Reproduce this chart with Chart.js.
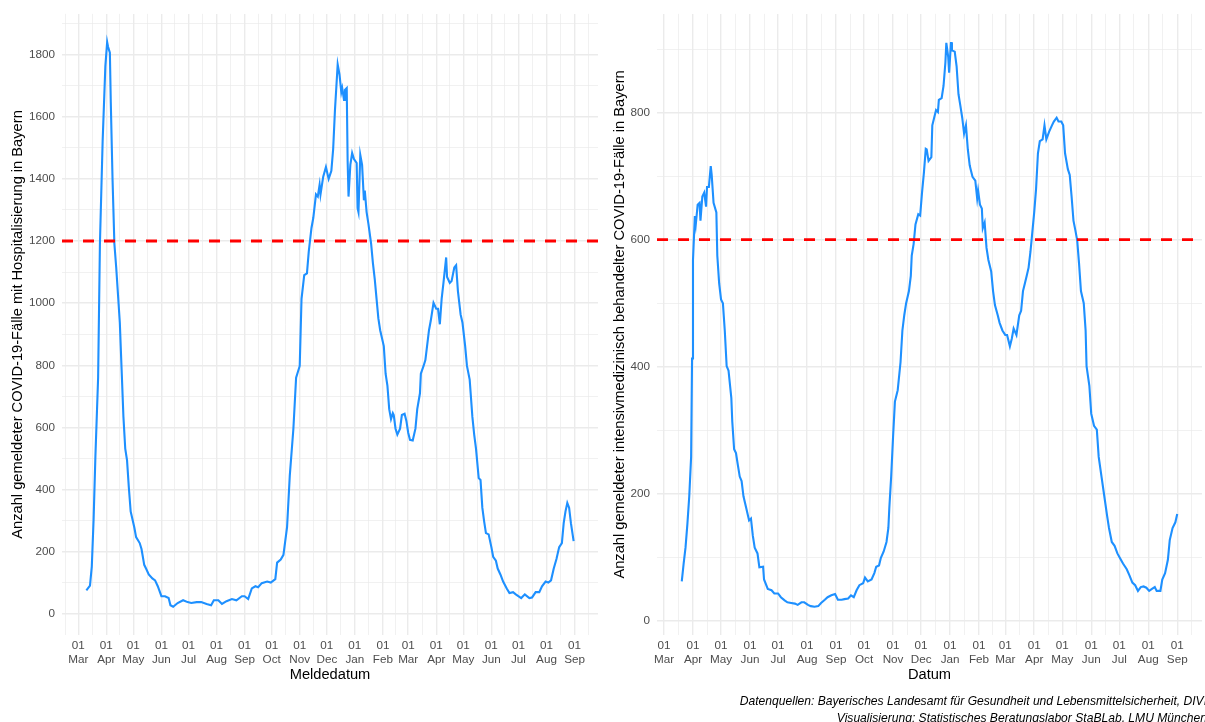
<!DOCTYPE html>
<html>
<head>
<meta charset="utf-8">
<script src="https://cdn.jsdelivr.net/npm/chart.js@4.4.1/dist/chart.umd.min.js"></script>
<style>
  body { margin: 0; width: 1205px; height: 722px; overflow: hidden; background: #fff; position: relative; font-family: "Liberation Sans", Arial, sans-serif; }
  canvas { position: absolute; top: 0; }
  #caption { position: absolute; right: -2px; top: 693px; font-style: italic; font-size: 12.1px; line-height: 17px; text-align: right; white-space: nowrap; color: #000; }
</style>
</head>
<body>
<canvas id="hospChart" width="600" height="722" style="left:0"></canvas>
<canvas id="icuChart" width="605" height="722" style="left:600px"></canvas>
<div id="caption">Datenquellen: Bayerisches Landesamt für Gesundheit und Lebensmittelsicherheit, DIVI<br>Visualisierung: Statistisches Beratungslabor StaBLab, LMU München</div>
<script>
// Hospitalisierte Fälle (Meldedatum)
const hospDates = [
  "2020-03-10","2020-03-14","2020-03-16","2020-03-18","2020-03-20","2020-03-23","2020-03-25","2020-03-28","2020-03-31","2020-04-02",
  "2020-04-03","2020-04-05","2020-04-06","2020-04-08","2020-04-10","2020-04-12","2020-04-14","2020-04-16","2020-04-18","2020-04-20",
  "2020-04-22","2020-04-24","2020-04-26","2020-04-28","2020-05-02","2020-05-04","2020-05-08","2020-05-10","2020-05-13","2020-05-15",
  "2020-05-18","2020-05-22","2020-05-25","2020-05-28","2020-06-01","2020-06-05","2020-06-09","2020-06-11","2020-06-14","2020-06-19",
  "2020-06-25","2020-06-30","2020-07-04","2020-07-10","2020-07-15","2020-07-21","2020-07-26","2020-07-29","2020-08-03","2020-08-07",
  "2020-08-12","2020-08-18","2020-08-23","2020-08-29","2020-09-01","2020-09-05","2020-09-09","2020-09-13","2020-09-16","2020-09-20",
  "2020-09-26","2020-09-30","2020-10-05","2020-10-07","2020-10-11","2020-10-14","2020-10-18","2020-10-21","2020-10-25","2020-10-28",
  "2020-11-01","2020-11-03","2020-11-06","2020-11-09","2020-11-11","2020-11-14","2020-11-16","2020-11-19","2020-11-21","2020-11-23",
  "2020-11-24","2020-11-27","2020-11-30","2020-12-03","2020-12-06","2020-12-08","2020-12-10","2020-12-13","2020-12-15","2020-12-17",
  "2020-12-18","2020-12-20","2020-12-21","2020-12-23","2020-12-24","2020-12-25","2020-12-27","2020-12-29","2020-12-31","2021-01-03",
  "2021-01-04","2021-01-05","2021-01-07","2021-01-09","2021-01-11","2021-01-12","2021-01-14","2021-01-16","2021-01-19","2021-01-21",
  "2021-01-23","2021-01-25","2021-01-27","2021-01-29","2021-02-02","2021-02-04","2021-02-06","2021-02-08","2021-02-10","2021-02-12",
  "2021-02-13","2021-02-15","2021-02-17","2021-02-20","2021-02-22","2021-02-25","2021-02-27","2021-03-01","2021-03-03","2021-03-06",
  "2021-03-09","2021-03-11","2021-03-14","2021-03-15","2021-03-18","2021-03-20","2021-03-24","2021-03-26","2021-03-29","2021-04-01",
  "2021-04-03","2021-04-05","2021-04-07","2021-04-09","2021-04-12","2021-04-13","2021-04-16","2021-04-18","2021-04-21","2021-04-23",
  "2021-04-25","2021-04-28","2021-04-30","2021-05-03","2021-05-05","2021-05-08","2021-05-11","2021-05-13","2021-05-15","2021-05-18",
  "2021-05-20","2021-05-22","2021-05-24","2021-05-26","2021-05-29","2021-06-01","2021-06-03","2021-06-06","2021-06-08","2021-06-11",
  "2021-06-14","2021-06-18","2021-06-21","2021-06-25","2021-06-28","2021-07-04","2021-07-08","2021-07-13","2021-07-16","2021-07-20",
  "2021-07-24","2021-07-27","2021-07-31","2021-08-03","2021-08-06","2021-08-09","2021-08-12","2021-08-15","2021-08-18","2021-08-20",
  "2021-08-22","2021-08-24","2021-08-26","2021-08-28","2021-08-31"
];
const hospValues = [
  76, 91, 152, 304, 507, 760, 1191, 1521, 1762, 1840,
  1825, 1806, 1648, 1394, 1191, 1115, 1027, 938, 786, 634,
  532, 494, 406, 330, 279, 247, 228, 209, 158, 146,
  127, 114, 108, 89, 57, 57, 51, 28, 23, 35,
  44, 38, 35, 38, 38, 32, 28, 44, 44, 32,
  41, 48, 44, 57, 57, 48, 82, 89, 86, 99,
  104, 101, 112, 165, 175, 190, 279, 444, 596, 760,
  798, 1014, 1090, 1096, 1166, 1242, 1274, 1350, 1343, 1381,
  1350, 1407, 1438, 1400, 1426, 1496, 1622, 1768, 1736, 1679,
  1692, 1654, 1686, 1692, 1458, 1343, 1445, 1483, 1464, 1451,
  1306, 1293, 1477, 1445, 1331, 1362, 1293, 1255, 1191, 1128,
  1077, 1014, 951, 913, 862, 773, 735, 659, 627, 646,
  640, 596, 577, 596, 640, 644, 621, 583, 560, 558,
  596, 659, 710, 773, 798, 817, 913, 944, 1001, 982,
  982, 932, 1014, 1065, 1147, 1084, 1065, 1071, 1115, 1122,
  1039, 963, 938, 862, 798, 754, 634, 577, 532, 437,
  431, 342, 298, 260, 256, 215, 184, 171, 146, 127,
  104, 82, 67, 70, 63, 51, 63, 51, 53, 70,
  70, 89, 104, 101, 108, 146, 177, 215, 228, 292,
  330, 357, 342, 292, 234
];

// Intensivmedizinisch behandelte Fälle (Datum)
const icuDates = [
  "2020-03-20","2020-03-22","2020-03-24","2020-03-26","2020-03-28","2020-03-30","2020-03-31","2020-04-01","2020-04-03","2020-04-04",
  "2020-04-06","2020-04-08","2020-04-09","2020-04-11","2020-04-13","2020-04-15","2020-04-16","2020-04-18","2020-04-20","2020-04-21",
  "2020-04-23","2020-04-26","2020-04-27","2020-04-29","2020-05-01","2020-05-03","2020-05-05","2020-05-07","2020-05-09","2020-05-12",
  "2020-05-13","2020-05-15","2020-05-17","2020-05-19","2020-05-21","2020-05-23","2020-05-25","2020-05-28","2020-05-31","2020-06-02",
  "2020-06-04","2020-06-06","2020-06-09","2020-06-11","2020-06-15","2020-06-16","2020-06-20","2020-06-24","2020-06-27","2020-07-01",
  "2020-07-04","2020-07-08","2020-07-11","2020-07-15","2020-07-19","2020-07-22","2020-07-26","2020-07-29","2020-08-02","2020-08-05",
  "2020-08-09","2020-08-13","2020-08-16","2020-08-20","2020-08-23","2020-08-27","2020-08-31","2020-09-03","2020-09-07","2020-09-10",
  "2020-09-14","2020-09-17","2020-09-20","2020-09-23","2020-09-26","2020-09-30","2020-10-02","2020-10-05","2020-10-09","2020-10-12",
  "2020-10-14","2020-10-17","2020-10-19","2020-10-22","2020-10-25","2020-10-27","2020-10-28","2020-10-30","2020-11-01","2020-11-03",
  "2020-11-05","2020-11-06","2020-11-09","2020-11-11","2020-11-13","2020-11-15","2020-11-18","2020-11-20","2020-11-21","2020-11-23",
  "2020-11-25","2020-11-28","2020-11-30","2020-12-02","2020-12-04","2020-12-06","2020-12-07","2020-12-09","2020-12-12","2020-12-13",
  "2020-12-15","2020-12-17","2020-12-19","2020-12-20","2020-12-23","2020-12-25","2020-12-27","2020-12-28","2020-12-30","2020-12-31",
  "2021-01-02","2021-01-03","2021-01-06","2021-01-08","2021-01-10","2021-01-12","2021-01-14","2021-01-16","2021-01-18","2021-01-20",
  "2021-01-22","2021-01-23","2021-01-25","2021-01-28","2021-01-30","2021-01-31","2021-02-02","2021-02-04","2021-02-05","2021-02-07",
  "2021-02-09","2021-02-11","2021-02-14","2021-02-16","2021-02-18","2021-02-21","2021-02-23","2021-02-26","2021-03-01","2021-03-03",
  "2021-03-06","2021-03-08","2021-03-10","2021-03-13","2021-03-16","2021-03-18","2021-03-20","2021-03-22","2021-03-24","2021-03-26",
  "2021-03-28","2021-03-30","2021-04-01","2021-04-03","2021-04-05","2021-04-07","2021-04-10","2021-04-12","2021-04-14","2021-04-17",
  "2021-04-20","2021-04-22","2021-04-25","2021-04-27","2021-04-30","2021-05-02","2021-05-04","2021-05-07","2021-05-09","2021-05-11",
  "2021-05-13","2021-05-15","2021-05-17","2021-05-19","2021-05-21","2021-05-24","2021-05-26","2021-05-27","2021-05-30","2021-06-01",
  "2021-06-04","2021-06-07","2021-06-09","2021-06-12","2021-06-15","2021-06-18","2021-06-20","2021-06-23","2021-06-26","2021-06-29",
  "2021-07-02","2021-07-05","2021-07-09","2021-07-12","2021-07-15","2021-07-18","2021-07-21","2021-07-24","2021-07-27","2021-07-30",
  "2021-08-02","2021-08-05","2021-08-08","2021-08-10","2021-08-14","2021-08-16","2021-08-19","2021-08-22","2021-08-24","2021-08-27",
  "2021-08-30","2021-09-01"
];
const icuValues = [
  62, 90, 115, 152, 196, 258, 413, 568, 637, 624,
  655, 658, 630, 668, 674, 652, 683, 683, 716, 702,
  658, 643, 575, 531, 506, 500, 457, 401, 394, 351,
  314, 270, 264, 245, 227, 220, 196, 177, 158, 161,
  134, 115, 106, 84, 85, 65, 50, 48, 43, 43,
  37, 32, 29, 28, 27, 25, 29, 29, 25, 23,
  22, 23, 28, 33, 37, 40, 42, 33, 33, 34,
  35, 40, 37, 48, 56, 59, 68, 62, 65, 75,
  85, 87, 99, 109, 124, 146, 177, 227, 289, 345,
  357, 363, 407, 457, 481, 500, 519, 543, 575, 593,
  624, 640, 638, 674, 705, 743, 742, 724, 730, 780,
  792, 804, 801, 820, 823, 842, 879, 910, 888, 863,
  911, 898, 896, 873, 829, 811, 792, 767, 780, 742,
  717, 711, 699, 693, 665, 677, 655, 649, 618, 627,
  587, 568, 550, 519, 497, 481, 469, 457, 450, 450,
  432, 444, 460, 450, 481, 488, 519, 531, 543, 556,
  581, 612, 643, 680, 736, 755, 758, 780, 758, 770,
  780, 786, 792, 786, 786, 780, 736, 711, 702, 668,
  630, 615, 599, 562, 519, 500, 457, 401, 370, 326,
  307, 301, 258, 227, 196, 165, 146, 124, 118, 106,
  98, 90, 81, 71, 60, 56, 47, 53, 54, 52,
  47, 50, 53, 47, 47, 65, 75, 96, 127, 146,
  155, 168
];

const hospThreshold = 1200;
const icuThreshold = 600;
const monthLabels = ["Jan", "Feb", "Mar", "Apr", "May", "Jun", "Jul", "Aug", "Sep", "Oct", "Nov", "Dec"];

const dayMs = 86400000;
const origin = Date.UTC(2020, 2, 1);

function dayIndex(s) {
    const [y, m, d] = s.split("-").map(Number);
    return (Date.UTC(y, m - 1, d) - origin) / dayMs;
}

// ggplot-style 5% expansion of the data range
function expand(lo, hi) {
    const pad = (hi - lo) * 0.05;
    return [lo - pad, hi + pad];
}

// month starts as major ticks, mid-month as minor grid lines
function monthTicks(min, max) {
    const starts = [];
    for (let y = 2020; y <= 2021; y++) {
        for (let m = 0; m < 12; m++) {
            starts.push({ value: (Date.UTC(y, m, 1) - origin) / dayMs, month: m });
        }
    }
    const ticks = [];
    starts.forEach((s, i) => {
        ticks.push({ value: s.value, month: s.month, minor: false });
        if (i + 1 < starts.length) ticks.push({ value: (s.value + starts[i + 1].value) / 2, minor: true });
    });
    return ticks.filter(t => t.value >= min && t.value <= max);
}

function valueTicks(min, max, step) {
    const ticks = [];
    const half = step / 2;
    for (let v = Math.ceil(min / half) * half; v <= max; v += half) {
        ticks.push({ value: v, minor: v % step !== 0 });
    }
    return ticks;
}

const gridColor = "#EBEBEB";
const tickFont = { family: "'Liberation Sans', Arial, sans-serif", size: 11.7, lineHeight: 1.18 };
const titleFont = { family: "'Liberation Sans', Arial, sans-serif", size: 14.67, lineHeight: 1.2 };

function drawPanel(canvasId, dates, values, threshold, yTitle, xTitle, axisWidth, titleLeft, rightPad) {
    const points = dates.map((d, i) => ({ x: dayIndex(d), y: values[i] }));
    const xs = points.map(p => p.x);
    const ys = points.map(p => p.y);
    const [xMin, xMax] = expand(Math.min(...xs), Math.max(...xs));
    const [yMin, yMax] = expand(Math.min(...ys), Math.max(...ys));

    const gridOpts = {
        color: gridColor,
        lineWidth: ctx => (ctx.tick && ctx.tick.minor ? 0.7 : 1.4),
        drawTicks: false
    };

    new Chart(document.getElementById(canvasId).getContext("2d"), {
        type: "line",
        data: {
            datasets: [
                {
                    data: [{ x: xMin, y: threshold }, { x: xMax, y: threshold }],
                    borderColor: "#FF0000",
                    borderWidth: 2.8,
                    borderDash: [11, 10],
                    pointRadius: 0
                },
                {
                    data: points,
                    borderColor: "#1E90FF",
                    borderWidth: 2.1,
                    pointRadius: 0,
                    tension: 0
                }
            ]
        },
        options: {
            responsive: false,
            animation: false,
            devicePixelRatio: 1,
            layout: { padding: { left: 0, top: 11, right: rightPad, bottom: 0 } },
            plugins: { legend: { display: false }, tooltip: { enabled: false } },
            scales: {
                x: {
                    type: "linear",
                    min: xMin,
                    max: xMax,
                    afterBuildTicks: scale => { scale.ticks = monthTicks(xMin, xMax); },
                    afterFit: scale => { scale.height = 87; },
                    grid: gridOpts,
                    border: { display: false },
                    ticks: {
                        autoSkip: false,
                        maxRotation: 0,
                        minRotation: 0,
                        padding: 4,
                        color: "#4D4D4D",
                        font: tickFont,
                        callback: (value, index, ticks) => ticks[index].minor ? "" : ["01", monthLabels[ticks[index].month]]
                    },
                    title: { display: true, text: xTitle, color: "#000", font: titleFont, padding: { top: 0, bottom: 38 } }
                },
                y: {
                    type: "linear",
                    min: yMin,
                    max: yMax,
                    afterBuildTicks: scale => { scale.ticks = valueTicks(yMin, yMax, 200); },
                    afterFit: scale => { scale.width = axisWidth; },
                    grid: gridOpts,
                    border: { display: false },
                    ticks: {
                        padding: 7,
                        color: "#4D4D4D",
                        font: tickFont,
                        callback: (value, index, ticks) => ticks[index].minor ? "" : String(value)
                    },
                    title: { display: true, text: yTitle, color: "#000", font: titleFont, padding: { top: titleLeft, bottom: 0 } }
                }
            }
        }
    });
}

drawPanel("hospChart", hospDates, hospValues, hospThreshold,
    "Anzahl gemeldeter COVID-19-Fälle mit Hospitalisierung in Bayern", "Meldedatum", 62, 9, 2);
drawPanel("icuChart", icuDates, icuValues, icuThreshold,
    "Anzahl gemeldeter intensivmedizinisch behandelter COVID-19-Fälle in Bayern", "Datum", 57, 11, 3);
</script>
</body>
</html>
